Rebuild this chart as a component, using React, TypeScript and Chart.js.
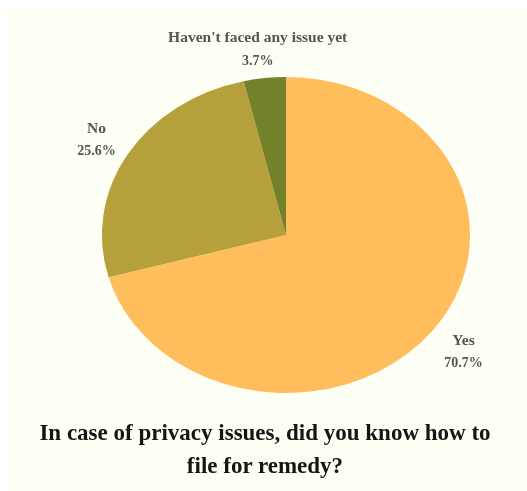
import React, { useEffect, useRef } from "react";
import { Chart, registerables } from "chart.js";

Chart.register(...registerables);

const categories = ["Yes", "No", "Haven't faced any issue yet"];
const values = [70.7, 25.6, 3.7];
const valueLabels = ["70.7%", "25.6%", "3.7%"];
const colors = ["#FFBD5C", "#B5A03C", "#73822A"];
const labelOffsets = [
  [31, 21],
  [-31, -15],
  [-7, -29],
];
const title = ["In case of privacy issues, did you know how to", "file for remedy?"];

const STRETCH = 1.165;

const ellipsePlugin = {
  id: "ellipse",
  beforeDatasetsDraw(chart: any) {
    const ctx = chart.ctx;
    const meta = chart.getDatasetMeta(0);
    const arc = meta.data[0];
    const cx = arc.x;
    const cy = arc.y;
    ctx.save();
    ctx.translate(cx, cy);
    ctx.scale(STRETCH, 1);
    ctx.translate(-cx, -cy);
  },
  afterDatasetsDraw(chart: any) {
    chart.ctx.restore();
  },
  afterDraw(chart: any) {
    const ctx = chart.ctx;
    const meta = chart.getDatasetMeta(0);
    ctx.save();
    ctx.fillStyle = "#555555";
    ctx.textAlign = "center";
    ctx.textBaseline = "middle";
    meta.data.forEach((arc: any, i: number) => {
      const mid = (arc.startAngle + arc.endAngle) / 2;
      const r = arc.outerRadius;
      const ex = arc.x + Math.cos(mid) * r * STRETCH;
      const ey = arc.y + Math.sin(mid) * r;
      const lx = ex + labelOffsets[i][0];
      const ly = ey + labelOffsets[i][1];
      ctx.font = "bold 15.5px 'Liberation Serif', serif";
      ctx.fillText(categories[i], lx, ly - 11);
      ctx.font = "bold 14px 'Liberation Serif', serif";
      ctx.fillText(valueLabels[i], lx, ly + 12);
    });
    ctx.restore();
  },
};

export default function App() {
  const ref = useRef<HTMLCanvasElement | null>(null);
  useEffect(() => {
    if (!ref.current) return;
    const chart = new Chart(ref.current, {
      type: "pie",
      data: {
        labels: categories,
        datasets: [
          {
            data: values,
            backgroundColor: colors,
            borderWidth: 0,
            clip: false as any,
          },
        ],
      },
      options: {
        animation: false,
        responsive: false,
        maintainAspectRatio: false,
        layout: { padding: { top: 77, bottom: 98, left: 128, right: 83 } },
        plugins: {
          legend: { display: false },
          tooltip: { enabled: false },
          title: { display: false },
        },
      },
      plugins: [ellipsePlugin],
    });
    return () => chart.destroy();
  }, []);

  return (
    <div
      style={{
        position: "fixed",
        left: 0,
        top: 0,
        width: 527,
        height: 491,
        background: "#ffffff",
        overflow: "hidden",
      }}
    >
      <div
        style={{
          position: "absolute",
          left: 6,
          top: 8,
          width: 521,
          height: 483,
          background: "#FDFEF4",
        }}
      />
      <canvas
        ref={ref}
        width={527}
        height={491}
        style={{ position: "absolute", left: 0, top: 0, width: 527, height: 491 }}
      />
      <div
        style={{
          position: "absolute",
          left: 0,
          top: 416,
          width: 530,
          textAlign: "center",
          fontFamily: "'Liberation Serif', serif",
          fontWeight: 700,
          fontSize: 23,
          lineHeight: "33px",
          color: "#151515",
        }}
      >
        {title[0]}
        <br />
        {title[1]}
      </div>
    </div>
  );
}
